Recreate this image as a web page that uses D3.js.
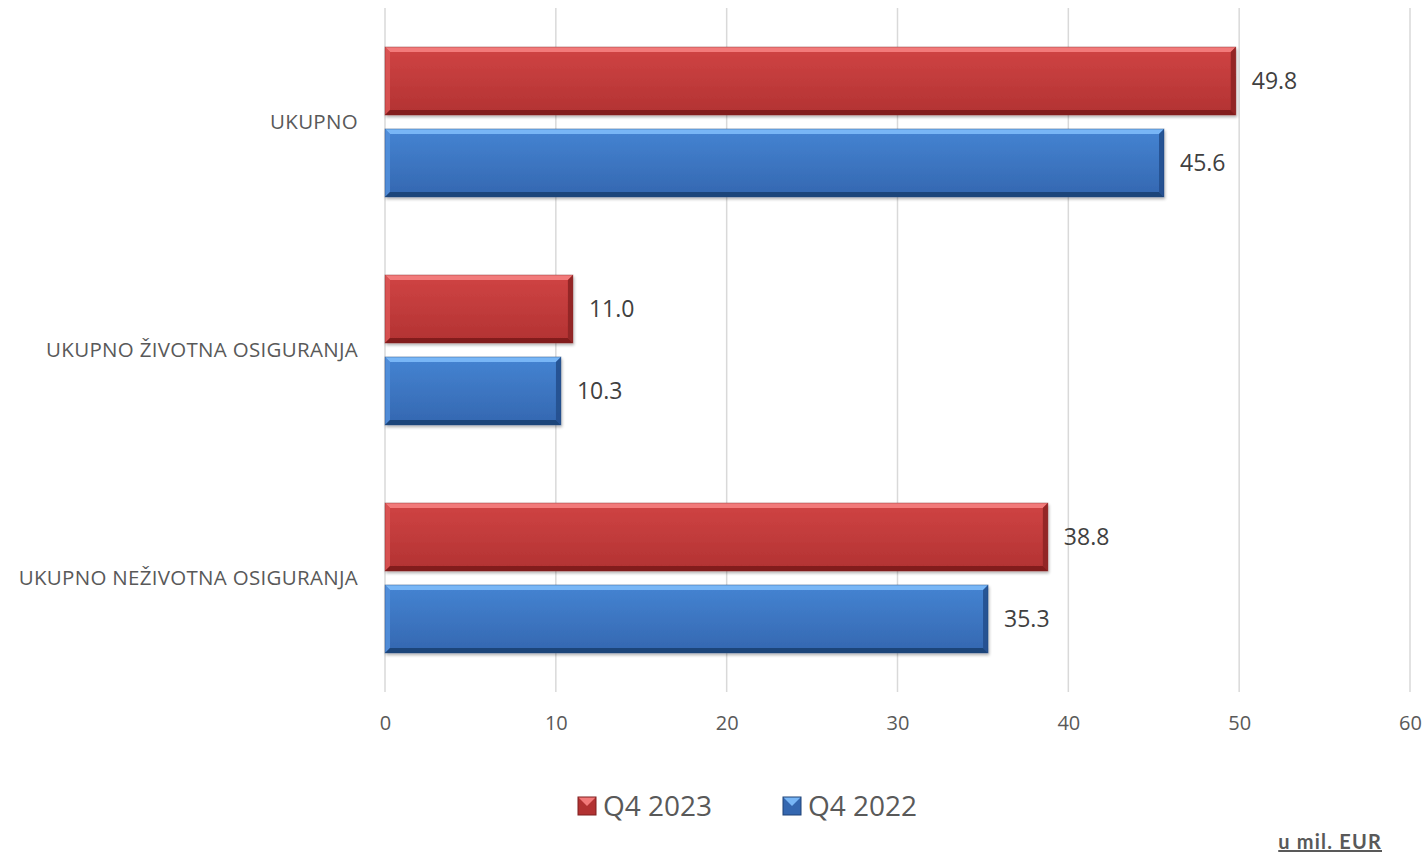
<!DOCTYPE html>
<html>
<head>
<meta charset="utf-8">
<script src="https://cdn.jsdelivr.net/npm/d3@7"></script>
<style>
  html, body { margin: 0; padding: 0; background: #ffffff; }
  svg { display: block; font-family: "Open Sans", sans-serif; }
</style>
</head>
<body>
<svg id="chart" width="1427" height="854"></svg>
<script>
// Categories, top to bottom
const categories = ["UKUPNO", "UKUPNO ŽIVOTNA OSIGURANJA", "UKUPNO NEŽIVOTNA OSIGURANJA"];
// Series values (u mil. EUR)
const seriesNames = ["Q4 2023", "Q4 2022"];
const valuesQ42023 = [49.8, 11.0, 38.8];
const valuesQ42022 = [45.6, 10.3, 35.3];
const tickValues = [0, 10, 20, 30, 40, 50, 60];

const palettes = {
  "Q4 2023": { top: "#f27a7a", main: "#d04444", mainDark: "#b23232", left: "#dc5656", right: "#8e2424", bottom: "#7f1f1f" },
  "Q4 2022": { top: "#78b6f6", main: "#4584d2", mainDark: "#3467b0", left: "#5491dc", right: "#234f8e", bottom: "#1f4377" }
};

const svg = d3.select("#chart");
const margin = { left: 385, right: 17, top: 8, bottom: 162 };
const W = 1427, H = 854;

const x = d3.scaleLinear().domain([0, 60]).range([margin.left, W - margin.right]);
const y0 = d3.scaleBand().domain(categories).range([margin.top, H - margin.bottom]).paddingInner(0).paddingOuter(0);
const y1 = d3.scaleBand().domain(seriesNames).range([39, y0.bandwidth() - 39]).paddingInner(0.17);

const defs = svg.append("defs");
seriesNames.forEach((s, i) => {
  const p = palettes[s];
  const g = defs.append("linearGradient").attr("id", "grad" + i).attr("x1", 0).attr("y1", 0).attr("x2", 0).attr("y2", 1);
  g.append("stop").attr("offset", "0%").attr("stop-color", p.main);
  g.append("stop").attr("offset", "100%").attr("stop-color", p.mainDark);
});
const shadow = defs.append("filter").attr("id", "shadow").attr("x", "-5%").attr("y", "-20%").attr("width", "110%").attr("height", "150%");
shadow.append("feGaussianBlur").attr("in", "SourceAlpha").attr("stdDeviation", 1.5);
shadow.append("feOffset").attr("dx", 1).attr("dy", 2).attr("result", "ob");
shadow.append("feComponentTransfer").append("feFuncA").attr("type", "linear").attr("slope", 0.3);
const merge = shadow.append("feMerge");
merge.append("feMergeNode");
merge.append("feMergeNode").attr("in", "SourceGraphic");

// Vertical gridlines
svg.append("g").selectAll("line").data(tickValues).join("line")
  .attr("x1", d => x(d)).attr("x2", d => x(d))
  .attr("y1", margin.top).attr("y2", H - margin.bottom)
  .attr("stroke", "#d9d9d9").attr("stroke-width", 1.5);

// X axis tick labels
const xAxis = d3.axisBottom(x).tickValues(tickValues).tickSize(0).tickPadding(0).tickFormat(d3.format("d"));
const gx = svg.append("g").attr("transform", `translate(0,${H - margin.bottom + 24})`).call(xAxis);
gx.select(".domain").remove();
gx.selectAll("text").attr("font-size", 20).attr("fill", "#595959").attr("font-family", "'Open Sans', sans-serif");

// Category labels
const yAxis = d3.axisLeft(y0).tickSize(0).tickPadding(27);
const gy = svg.append("g").attr("transform", `translate(${margin.left},0)`).call(yAxis);
gy.select(".domain").remove();
gy.selectAll("text").attr("font-size", 20.5).attr("letter-spacing", 0.3)
  .attr("fill", "#595959").attr("font-family", "'Open Sans', sans-serif");

// Bevelled bar
function bevelBar(g, x0, yTop, w, h, p, gradId, b) {
  const x1 = x0 + w, yB = yTop + h;
  const bb = Math.min(b, w / 2);
  const grp = g.append("g").attr("filter", "url(#shadow)");
  grp.append("rect").attr("x", x0).attr("y", yTop).attr("width", w).attr("height", h).attr("fill", `url(#${gradId})`);
  const poly = (pts, fill, op) => grp.append("polygon").attr("points", pts.map(q => q.join(",")).join(" ")).attr("fill", fill).attr("opacity", op);
  poly([[x0, yTop], [x1, yTop], [x1 - bb, yTop + b], [x0 + bb, yTop + b]], p.top, 1);
  poly([[x0, yTop], [x0 + bb, yTop + b], [x0 + bb, yB - b], [x0, yB]], p.left, 0.85);
  poly([[x1, yTop], [x1, yB], [x1 - bb, yB - b], [x1 - bb, yTop + b]], p.right, 0.9);
  poly([[x0, yB], [x0 + bb, yB - b], [x1 - bb, yB - b], [x1, yB]], p.bottom, 0.95);
  grp.append("rect").attr("x", x0).attr("y", yTop).attr("width", w).attr("height", h)
    .attr("fill", "none").attr("stroke", p.bottom).attr("stroke-opacity", 0.5).attr("stroke-width", 0.8);
}

const seriesData = [valuesQ42023, valuesQ42022];
categories.forEach((cat, ci) => {
  const g = svg.append("g").attr("transform", `translate(0,${y0(cat)})`);
  seriesNames.forEach((s, si) => {
    const v = seriesData[si][ci];
    const yy = y1(s);
    bevelBar(g, x(0), yy, x(v) - x(0), y1.bandwidth(), palettes[s], "grad" + si, 5);
    g.append("text")
      .attr("x", x(v) + 16).attr("y", yy + y1.bandwidth() / 2)
      .attr("dy", "0.35em")
      .attr("font-size", 23).attr("fill", "#404040")
      .text(d3.format(".1f")(v));
  });
});

// Legend
const legendItems = [{ name: "Q4 2023", x: 578 }, { name: "Q4 2022", x: 783 }];
const lg = svg.append("g");
legendItems.forEach((it) => {
  const p = palettes[it.name];
  const gi = lg.append("g");
  const s = 18, ly = 797;
  gi.append("rect").attr("x", it.x).attr("y", ly).attr("width", s).attr("height", s).attr("fill", p.mainDark);
  gi.append("polygon").attr("points", `${it.x},${ly} ${it.x + s},${ly} ${it.x + s / 2},${ly + s / 2}`).attr("fill", p.top);
  gi.append("rect").attr("x", it.x).attr("y", ly).attr("width", s).attr("height", s).attr("fill", "none").attr("stroke", p.bottom).attr("stroke-width", 1);
  gi.append("text").attr("x", it.x + s + 7).attr("y", ly + s / 2).attr("dy", "0.35em")
    .attr("font-size", 28).attr("fill", "#595959").text(it.name);
});

// Unit note
svg.append("text").attr("x", 1382).attr("y", 849).attr("text-anchor", "end")
  .attr("font-size", 20).attr("font-weight", "bold").attr("fill", "#595959")
  .attr("letter-spacing", 1.2)
  .attr("font-family", "Lato, sans-serif")
  .attr("text-decoration", "underline").text("u mil. EUR");
</script>
</body>
</html>
